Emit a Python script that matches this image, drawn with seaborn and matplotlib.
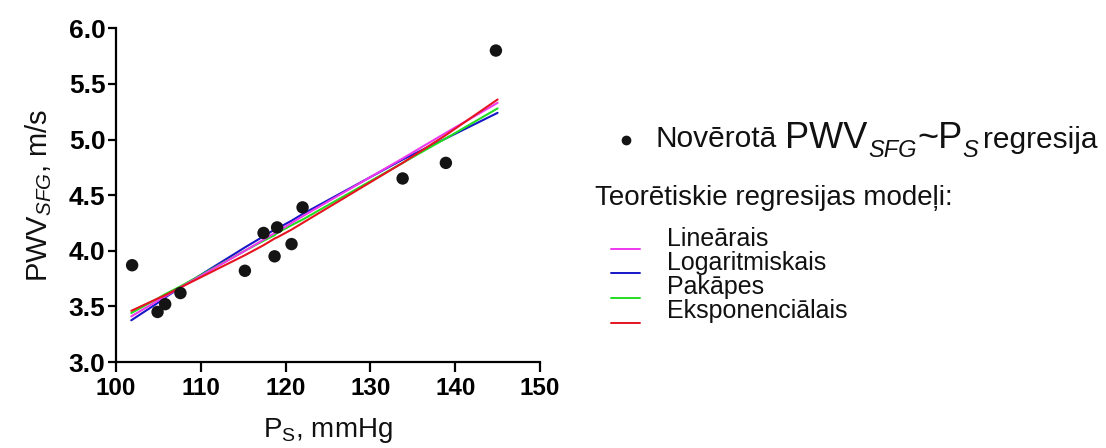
import numpy as np
import pandas as pd
import matplotlib
matplotlib.use("Agg")
import matplotlib.pyplot as plt
import seaborn as sns
from matplotlib.lines import Line2D

# Observed systolic pressure (mmHg) and pulse wave velocity (m/s)
ps_obs = [101.9, 104.9, 105.8, 107.6, 115.2, 117.4, 118.7, 119.0, 120.7, 122.0, 133.8, 138.9, 144.8]
pwv_obs = [3.87, 3.45, 3.52, 3.62, 3.82, 4.16, 3.95, 4.21, 4.06, 4.39, 4.65, 4.79, 5.80]

# Fitted regression models evaluated along the pressure range
ps_fit = [101.8, 104.9, 105.8, 107.6, 115.2, 117.4, 118.7, 119.0, 120.7, 122.0, 133.8, 138.9, 145.0]
fit_linear = [3.41, 3.55, 3.59, 3.67, 4.00, 4.10, 4.16, 4.17, 4.25, 4.31, 4.83, 5.06, 5.33]
fit_log = [3.375, 3.53, 3.58, 3.67, 4.03, 4.13, 4.19, 4.20, 4.27, 4.33, 4.82, 5.01, 5.24]
fit_power = [3.44, 3.57, 3.61, 3.68, 4.00, 4.09, 4.14, 4.16, 4.23, 4.28, 4.79, 5.01, 5.28]
fit_exp = [3.46, 3.57, 3.60, 3.67, 3.96, 4.05, 4.11, 4.12, 4.19, 4.25, 4.79, 5.04, 5.36]

model_names = ["Lineārais", "Logaritmiskais", "Pakāpes", "Eksponenciālais"]
model_colors = ["#ee38ee", "#1616c8", "#22dd22", "#e61420"]
model_values = [fit_linear, fit_log, fit_power, fit_exp]

x_ticks = [100, 110, 120, 130, 140, 150]
y_ticks = [3.0, 3.5, 4.0, 4.5, 5.0, 5.5, 6.0]

sns.set_theme(style="ticks")
plt.rcParams["font.family"] = ["Liberation Sans", "DejaVu Sans"]
plt.rcParams["mathtext.fontset"] = "custom"
plt.rcParams["mathtext.rm"] = "Liberation Sans"
plt.rcParams["mathtext.it"] = "Liberation Sans:italic"

W, H = 1106, 448
fig = plt.figure(figsize=(W / 100, H / 100), dpi=100)
ax = fig.add_axes([116 / W, 1 - 362 / H, (540 - 116) / W, (362 - 28.3) / H])

fit_df = pd.DataFrame({"ps": np.tile(ps_fit, len(model_names)),
                       "pwv": np.concatenate(model_values),
                       "model": np.repeat(model_names, len(ps_fit))})
draw_order = ["Logaritmiskais", "Pakāpes", "Lineārais", "Eksponenciālais"]
for name in draw_order:
    sub = fit_df[fit_df["model"] == name]
    sns.lineplot(data=sub, x="ps", y="pwv", ax=ax, sort=True, estimator=None,
                 color=model_colors[model_names.index(name)], lw=1.5, legend=False)

sns.scatterplot(x=ps_obs, y=pwv_obs, ax=ax, color="#141414", s=80,
                edgecolor="none", linewidth=0, zorder=5)

ax.set_xlim(100, 150)
ax.set_ylim(3.0, 6.0)
ax.set_xticks(x_ticks)
ax.set_yticks(y_ticks)
ax.set_xticklabels([str(v) for v in x_ticks], fontsize=17.5, fontweight="bold")
ax.set_yticklabels([f"{v:.1f}" for v in y_ticks], fontsize=19, fontweight="bold")
sns.despine(ax=ax)
for side in ["left", "bottom"]:
    ax.spines[side].set_linewidth(1.6)
    ax.spines[side].set_color("black")
ax.tick_params(axis="both", width=1.6, color="black", labelcolor="black")
ax.tick_params(axis="x", length=7, pad=4)
ax.tick_params(axis="y", length=5.5, pad=2)
ax.set_xlabel(r"P$_\mathrm{S}$, mmHg", fontsize=20, labelpad=11, color="#111111")
ax.set_ylabel(r"PWV$_{SFG}$, m/s", fontsize=21, labelpad=11, color="#111111")

# Legend block assembled from text runs on the right side
fig.canvas.draw()
renderer = fig.canvas.get_renderer()


def run(x_px, y_px, pieces):
    x = x_px
    for text, size, style, dy, gap in pieces:
        t = fig.text(x / W, 1 - (y_px + dy) / H, text, fontsize=size, style=style,
                     va="baseline", ha="left", color="#111111")
        bb = t.get_window_extent(renderer)
        x = bb.x1 + gap


fig.add_artist(Line2D([626 / W], [1 - 140 / H], marker="o", markersize=6,
                      color="#141414", transform=fig.transFigure))
run(656, 147, [("Novērotā", 21.5, "normal", 0, 8),
               ("PWV", 26, "normal", 1, 1),
               ("SFG", 17, "italic", 10, 0),
               ("~P", 26, "normal", 1, 0),
               ("S", 17, "italic", 10, 5),
               ("regresija", 21.5, "normal", 1, 0)])
run(595, 205, [("Teorētiskie regresijas modeļi:", 20, "normal", 0, 0)])

row_base = [246, 270, 294, 318]
dash_y = [249, 273, 298, 323]
for name, col, yb, yd in zip(model_names, model_colors, row_base, dash_y):
    run(667, yb, [(name, 18, "normal", 0, 0)])
    fig.add_artist(Line2D([611 / W, 640 / W], [1 - yd / H] * 2, color=col,
                          lw=1.4, transform=fig.transFigure))

fig.savefig("out.png", dpi=100)
